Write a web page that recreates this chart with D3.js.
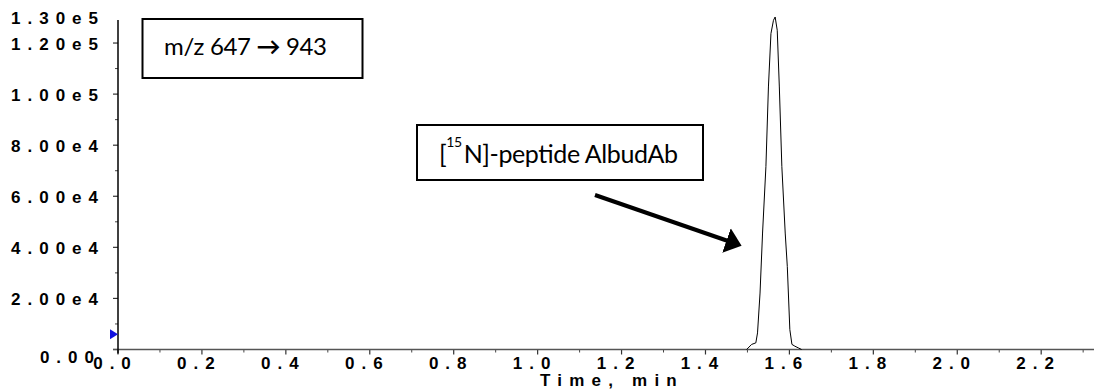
<!DOCTYPE html>
<html>
<head>
<meta charset="utf-8">
<script src="https://cdn.jsdelivr.net/npm/d3@7"></script>
<style>
  body { margin: 0; background: #fff; }
  .tick-label { font-family: "Liberation Sans", Arial, sans-serif; font-weight: bold; font-size: 17px; letter-spacing: 7px; fill: #000; }
  .note { font-family: Lato, "Liberation Sans", sans-serif; fill: #000; }
</style>
</head>
<body>
<div id="chart"></div>
<script>
// XIC trace around the peak (time in min, intensity in cps)
var peakTime = [1.498, 1.510, 1.520, 1.524, 1.530, 1.536, 1.544, 1.550, 1.556, 1.562, 1.566,
                1.571, 1.576, 1.582, 1.590, 1.595, 1.601, 1.606, 1.613, 1.621, 1.629];
var peakIntensity = [0, 2000, 2600, 6500, 22100, 45600, 71600, 102800, 123700, 128900, 130200,
                     125000, 102800, 71600, 45600, 32500, 7800, 2000, 1300, 650, 0];

var xTicks = [0.0, 0.2, 0.4, 0.6, 0.8, 1.0, 1.2, 1.4, 1.6, 1.8, 2.0, 2.2];
var yTicks = [0, 20000, 40000, 60000, 80000, 100000, 120000];
var yTickLabels = ["0.00", "2.00e4", "4.00e4", "6.00e4", "8.00e4", "1.00e5", "1.20e5"];
var yMaxLabel = "1.30e5";
var markerValue = 6000; // blue threshold marker on the y axis

var massLabel = ["m/z 647 ", "\u2192", " 943"];
var peakLabel = ["[", "15", "N]-peptide AlbudAb"];
var xTitle = "Time, min";

var w = 1094;
var h = 392;

var xScale = d3.scaleLinear().domain([0, 2.333]).range([118, 1097]);
var yScale = d3.scaleLinear().domain([0, 130000]).range([349.5, 17.5]);

var svg = d3.select("#chart")
            .append("svg")
            .attr("width", w)
            .attr("height", h);

// minor ticks
var xMinor = d3.range(0.1, 2.35, 0.2);
svg.selectAll(".xminor")
   .data(xMinor)
   .enter()
   .append("line")
   .attr("x1", function(d) { return xScale(d); })
   .attr("x2", function(d) { return xScale(d); })
   .attr("y1", yScale(0))
   .attr("y2", yScale(0) + 3)
   .attr("stroke", "#444")
   .attr("stroke-width", 1);

var yMinor = d3.range(10000, 120000, 20000);
svg.selectAll(".yminor")
   .data(yMinor)
   .enter()
   .append("line")
   .attr("x1", xScale(0) - 3)
   .attr("x2", xScale(0))
   .attr("y1", function(d) { return yScale(d); })
   .attr("y2", function(d) { return yScale(d); })
   .attr("stroke", "#444")
   .attr("stroke-width", 1);

// major ticks
svg.selectAll(".xmajor")
   .data(xTicks)
   .enter()
   .append("line")
   .attr("x1", function(d) { return xScale(d); })
   .attr("x2", function(d) { return xScale(d); })
   .attr("y1", yScale(0))
   .attr("y2", yScale(0) + 5)
   .attr("stroke", "#333")
   .attr("stroke-width", 1.2);

svg.selectAll(".ymajor")
   .data(yTicks)
   .enter()
   .append("line")
   .attr("x1", xScale(0) - 5)
   .attr("x2", xScale(0))
   .attr("y1", function(d) { return yScale(d); })
   .attr("y2", function(d) { return yScale(d); })
   .attr("stroke", "#333")
   .attr("stroke-width", 1.2);

// axis lines
svg.append("line")
   .attr("x1", xScale(0) - 5)
   .attr("x2", w)
   .attr("y1", yScale(0))
   .attr("y2", yScale(0))
   .attr("stroke", "#555")
   .attr("stroke-width", 1.5);

svg.append("line")
   .attr("x1", xScale(0))
   .attr("x2", xScale(0))
   .attr("y1", yScale(130000) + 2.5)
   .attr("y2", yScale(0) + 4)
   .attr("stroke", "#000")
   .attr("stroke-width", 1.5);

// tick labels
svg.selectAll(".xlabel")
   .data(xTicks)
   .enter()
   .append("text")
   .attr("class", "tick-label")
   .attr("x", function(d) { return xScale(d) - 2.5; })
   .attr("y", yScale(0) + 19)
   .attr("text-anchor", "middle")
   .text(function(d) { return d3.format(".1f")(d); });

svg.selectAll(".ylabel")
   .data(yTicks)
   .enter()
   .append("text")
   .attr("class", "tick-label")
   .attr("x", function(d) { return d == 0 ? 101 : 105; })
   .attr("y", function(d) { return d == 0 ? yScale(d) + 13.5 : yScale(d) + 6.5; })
   .attr("text-anchor", "end")
   .text(function(d, i) { return yTickLabels[i]; });

svg.append("text")
   .attr("class", "tick-label")
   .attr("x", 105)
   .attr("y", 24)
   .attr("text-anchor", "end")
   .text(yMaxLabel);

svg.append("text")
   .attr("class", "tick-label")
   .attr("x", 612)
   .attr("y", 386)
   .attr("text-anchor", "middle")
   .style("letter-spacing", "7.2px")
   .text(xTitle);

// blue marker
var my = yScale(markerValue);
svg.append("path")
   .attr("d", "M" + (xScale(0) - 8) + "," + (my - 5) + "L" + xScale(0) + "," + my + "L" + (xScale(0) - 8) + "," + (my + 5) + "Z")
   .attr("fill", "#1010e0");

// trace
var line = d3.line()
             .x(function(d, i) { return xScale(peakTime[i]); })
             .y(function(d) { return yScale(d); });

svg.append("path")
   .datum(peakIntensity)
   .attr("d", line)
   .attr("fill", "none")
   .attr("stroke", "#000")
   .attr("stroke-width", 1);

// annotation boxes
svg.append("rect")
   .attr("x", 142.5)
   .attr("y", 19)
   .attr("width", 220)
   .attr("height", 59)
   .attr("fill", "#fff")
   .attr("stroke", "#000")
   .attr("stroke-width", 2);

var ml = svg.append("text")
            .attr("class", "note")
            .attr("x", 164)
            .attr("y", 55.3)
            .attr("textLength", 163)
            .attr("lengthAdjust", "spacing")
            .style("font-size", "24px");
ml.append("tspan").text(massLabel[0]);
ml.append("tspan").style("font-weight", "bold").text(massLabel[1]);
ml.append("tspan").text(massLabel[2]);

svg.append("rect")
   .attr("x", 417)
   .attr("y", 125)
   .attr("width", 286)
   .attr("height", 55)
   .attr("fill", "#fff")
   .attr("stroke", "#000")
   .attr("stroke-width", 2);

var pl = svg.append("text")
            .attr("class", "note")
            .attr("x", 439)
            .attr("y", 163.3)
            .attr("textLength", 239)
            .attr("lengthAdjust", "spacing")
            .style("font-size", "25px");
pl.append("tspan").text(peakLabel[0]);
pl.append("tspan").attr("dy", -16).style("font-size", "14px").text(peakLabel[1]);
pl.append("tspan").attr("dy", 16).attr("dx", 2).text(peakLabel[2]);

// arrow
svg.append("defs")
   .append("marker")
   .attr("id", "head")
   .attr("viewBox", "0 0 10 10")
   .attr("refX", 1)
   .attr("refY", 5)
   .attr("markerWidth", 4)
   .attr("markerHeight", 6.5)
   .attr("markerUnits", "strokeWidth")
   .attr("orient", "auto")
   .attr("preserveAspectRatio", "none")
   .append("path")
   .attr("d", "M0,0L10,5L0,10Z")
   .attr("fill", "#000");

svg.append("line")
   .attr("x1", 595)
   .attr("y1", 195)
   .attr("x2", 728)
   .attr("y2", 241)
   .attr("stroke", "#000")
   .attr("stroke-width", 4)
   .attr("marker-end", "url(#head)");
</script>
</body>
</html>
